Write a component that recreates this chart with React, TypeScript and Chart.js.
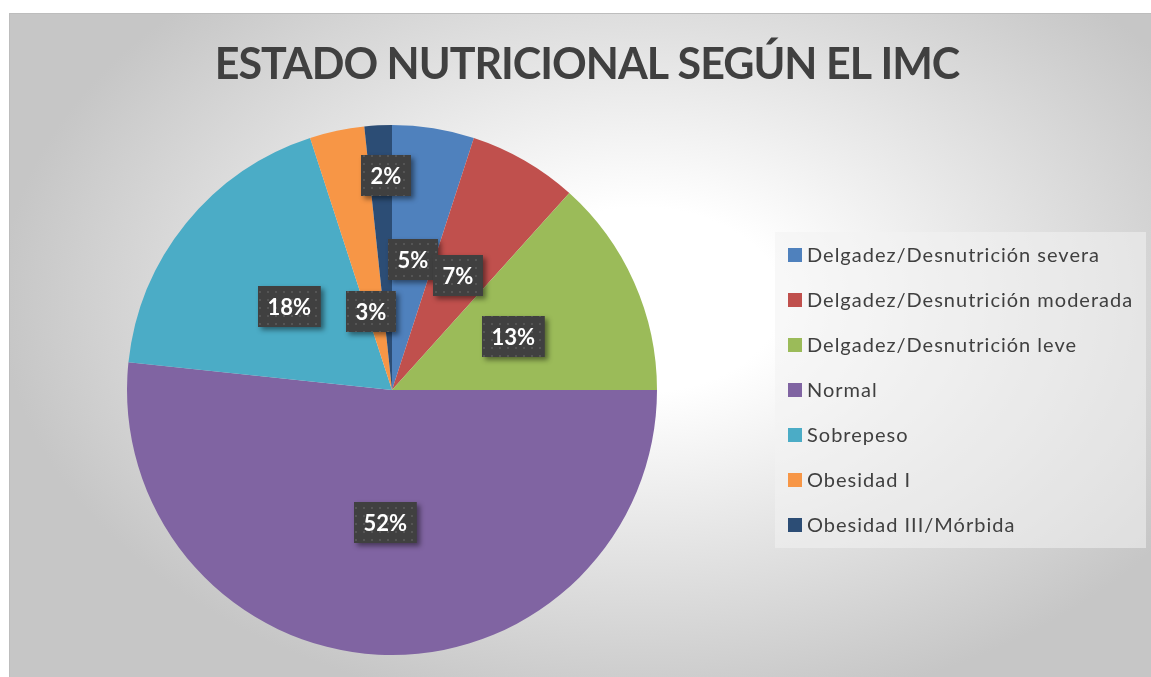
import React, { useEffect, useRef } from "react";
import { Chart, registerables } from "chart.js";

Chart.register(...registerables);

// ---- data ----
const chartTitle = "ESTADO NUTRICIONAL SEGÚN EL IMC";
const categories = [
  "Delgadez/Desnutrición severa",
  "Delgadez/Desnutrición moderada",
  "Delgadez/Desnutrición leve",
  "Normal",
  "Sobrepeso",
  "Obesidad I",
  "Obesidad III/Mórbida",
];
const counts = [3, 4, 8, 31, 11, 2, 1];
const sliceColors = ["#4F81BD", "#C0504D", "#9BBB59", "#8064A2", "#4BACC6", "#F79646", "#2C4D75"];

// label placement (fraction of radius, angular nudge in degrees)
const labelRadiusFrac = [0.5, 0.5, 0.5, 0.5, 0.5, 0.305, 0.81];
const labelAngleShift = [0, 0, 0, 0, 0, -3, 1.4];

const FONT = "Lato, 'Open Sans', 'DejaVu Sans', sans-serif";

let patternCache: CanvasPattern | null = null;
function getPattern(ctx: CanvasRenderingContext2D): CanvasPattern | string {
  if (patternCache) return patternCache;
  const tile = document.createElement("canvas");
  tile.width = 8;
  tile.height = 8;
  const t = tile.getContext("2d")!;
  t.fillStyle = "#404040";
  t.fillRect(0, 0, 8, 8);
  t.fillStyle = "#555555";
  t.fillRect(3, 3, 2, 2);
  const p = ctx.createPattern(tile, "repeat");
  if (p) patternCache = p;
  return p || "#404040";
}

const backgroundPlugin = {
  id: "bgPanel",
  beforeDraw(chart: any) {
    const ctx: CanvasRenderingContext2D = chart.ctx;
    const W = chart.width;
    const H = chart.height;
    ctx.save();
    ctx.fillStyle = "#ffffff";
    ctx.fillRect(0, 0, W, H);
    const x0 = 9, y0 = 13;
    const cx = 640, cy = 300, rx = 640, ry = 420;
    ctx.save();
    ctx.beginPath();
    ctx.rect(x0, y0, W - x0, H - y0);
    ctx.clip();
    ctx.translate(cx, cy);
    ctx.scale(1, ry / rx);
    const g = ctx.createRadialGradient(0, 0, 0, 0, 0, rx);
    g.addColorStop(0, "#ffffff");
    g.addColorStop(0.22, "#ffffff");
    g.addColorStop(1, "#c6c6c6");
    ctx.fillStyle = g;
    ctx.fillRect(-cx - 10, -rx * 2, W + 20, rx * 4);
    ctx.restore();
    ctx.strokeStyle = "#bdbdbd";
    ctx.lineWidth = 1;
    ctx.strokeRect(x0 + 0.5, y0 + 0.5, W - x0 + 5, H - y0 + 5);
    ctx.restore();
  },
};

const labelPlugin = {
  id: "pctLabels",
  afterDatasetsDraw(chart: any) {
    const ctx: CanvasRenderingContext2D = chart.ctx;
    const meta = chart.getDatasetMeta(0);
    const values: number[] = chart.data.datasets[0].data;
    const total = values.reduce((a, b) => a + b, 0);
    ctx.save();
    ctx.font = `bold 22px ${FONT}`;
    meta.data.forEach((arc: any, i: number) => {
      const p = arc.getProps(["x", "y", "startAngle", "endAngle", "outerRadius"], true);
      const mid = (p.startAngle + p.endAngle) / 2 + (labelAngleShift[i] * Math.PI) / 180;
      const r = p.outerRadius * labelRadiusFrac[i];
      const lx = p.x + Math.cos(mid) * r;
      const ly = p.y + Math.sin(mid) * r;
      const text = Math.round((values[i] / total) * 100) + "%";
      const tw = ctx.measureText(text).width;
      const bw = tw + 19;
      const bh = 41;
      const bx = Math.round(lx - bw / 2);
      const by = Math.round(ly - bh / 2);
      ctx.save();
      ctx.shadowColor = "rgba(0,0,0,0.45)";
      ctx.shadowBlur = 5;
      ctx.shadowOffsetX = 3;
      ctx.shadowOffsetY = 3;
      ctx.fillStyle = "#404040";
      ctx.fillRect(bx, by, bw, bh);
      ctx.restore();
      ctx.fillStyle = getPattern(ctx);
      ctx.fillRect(bx, by, bw, bh);
      ctx.fillStyle = "#ffffff";
      ctx.textAlign = "center";
      ctx.textBaseline = "middle";
      ctx.fillText(text, bx + bw / 2, by + bh / 2 + 1);
    });
    ctx.restore();
  },
};

const overlayPlugin = {
  id: "titleLegend",
  afterDraw(chart: any) {
    const ctx: any = chart.ctx;
    ctx.save();
    // title
    ctx.fillStyle = "#404040";
    ctx.font = `bold 43px ${FONT}`;
    ctx.letterSpacing = "-1px";
    ctx.textAlign = "center";
    ctx.textBaseline = "alphabetic";
    ctx.fillText(chartTitle, 587, 79);

    // legend
    const lx = 775, ly = 232, lw = 371, lh = 316;
    ctx.letterSpacing = "0px";
    ctx.fillStyle = "rgba(242,242,242,0.55)";
    ctx.fillRect(lx, ly, lw, lh);
    const labels: string[] = chart.data.labels;
    const colors: string[] = chart.data.datasets[0].backgroundColor;
    ctx.font = `20px ${FONT}`;
    ctx.letterSpacing = "1px";
    ctx.textAlign = "left";
    ctx.textBaseline = "middle";
    labels.forEach((lab, i) => {
      const cy = 255 + i * 45;
      ctx.fillStyle = colors[i];
      ctx.fillRect(788, cy - 7, 14, 14);
      ctx.fillStyle = "#404040";
      ctx.fillText(lab, 807, cy + 1);
    });
    ctx.restore();
  },
};

export default function App() {
  const ref = useRef<HTMLCanvasElement | null>(null);
  useEffect(() => {
    if (!ref.current) return;
    const chart = new Chart(ref.current, {
      type: "pie",
      data: {
        labels: categories,
        datasets: [
          {
            data: counts,
            backgroundColor: sliceColors,
            borderWidth: 0,
            hoverOffset: 0,
            offset: 0,
          },
        ],
      },
      options: {
        responsive: false,
        animation: false,
        events: [],
        layout: { padding: { left: 127, top: 125, right: 494, bottom: 22 } },
        plugins: {
          legend: { display: false },
          title: { display: false },
          tooltip: { enabled: false },
        },
      },
      plugins: [backgroundPlugin, labelPlugin, overlayPlugin],
    });
    return () => chart.destroy();
  }, []);
  return (
    <div style={{ position: "fixed", left: 0, top: 0, width: 1151, height: 677 }}>
      <canvas ref={ref} width={1151} height={677} style={{ width: 1151, height: 677, display: "block" }} />
    </div>
  );
}
